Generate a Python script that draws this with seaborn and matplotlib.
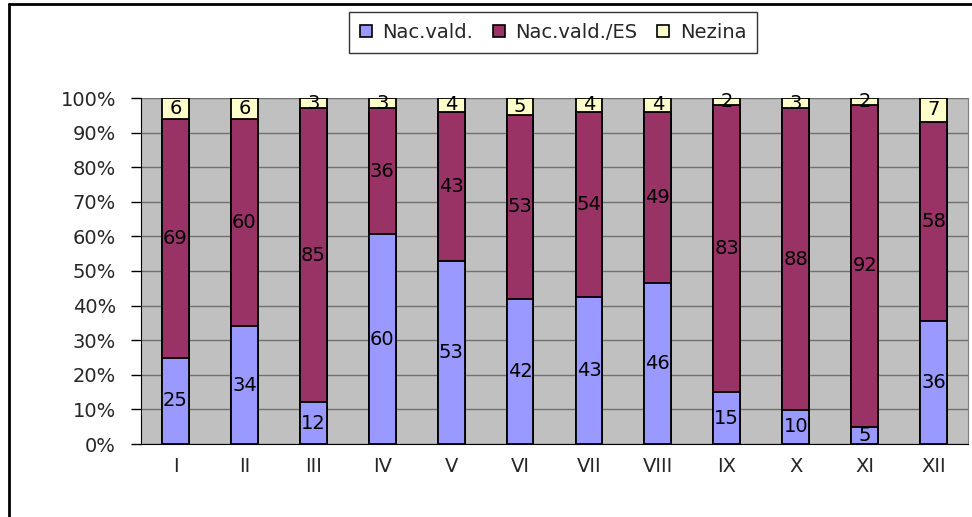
import matplotlib
matplotlib.use("Agg")
import matplotlib.pyplot as plt
from matplotlib.lines import Line2D
from matplotlib.patches import Patch
import numpy as np
import pandas as pd
import seaborn as sns

months = ["I", "II", "III", "IV", "V", "VI", "VII", "VIII", "IX", "X", "XI", "XII"]
nac_vald = [25, 34, 12, 60, 53, 42, 43, 46, 15, 10, 5, 36]
nac_vald_es = [69, 60, 85, 36, 43, 53, 54, 49, 83, 88, 92, 58]
nezina = [6, 6, 3, 3, 4, 5, 4, 4, 2, 3, 2, 7]

series_names = ["Nac.vald.", "Nac.vald./ES", "Nezina"]
colors = ["#9999FF", "#993366", "#FFFFCC"]

sns.set_style("white")
plt.rcParams["font.family"] = ["DejaVu Sans"]
FS = 14

raw = np.array([nac_vald, nac_vald_es, nezina], dtype=float)
share = raw / raw.sum(axis=0) * 100
cum = np.cumsum(share, axis=0)

df = pd.DataFrame({"month": months})
for i in range(3):
    df[f"cum{i}"] = cum[i]

fig = plt.figure(figsize=(9.72, 5.17), dpi=100)
ax = fig.add_axes([141 / 972, 1 - 444 / 517, 827 / 972, 346 / 517])
ax.set_facecolor("#C0C0C0")

# stacked columns: draw cumulative totals from the top layer down
for i in [2, 1, 0]:
    sns.barplot(data=df, x="month", y=f"cum{i}", color=colors[i], ax=ax,
                width=0.39, edgecolor="black", linewidth=1.3, saturation=1,
                zorder=3)

# value labels centred in each segment
for j in range(len(months)):
    bottom = 0
    for i in range(3):
        mid = bottom + share[i, j] / 2
        ax.text(j, mid, f"{int(raw[i, j])}", ha="center", va="center",
                fontsize=FS, color="black", zorder=5)
        bottom += share[i, j]

ax.set_xlim(-0.5, len(months) - 0.5)
ax.set_ylim(0, 100)
ax.set_yticks(np.arange(0, 101, 10))
ax.set_yticklabels([f"{v}%" for v in range(0, 101, 10)], fontsize=FS)
ax.yaxis.grid(True, color="#707070", linewidth=1, zorder=0)
ax.set_axisbelow(True)

ax.set_xticks(np.arange(len(months)))
ax.set_xticklabels(months, fontsize=FS)
ax.set_xticks(np.arange(-0.5, len(months)), minor=True)
ax.tick_params(axis="x", which="major", length=0, pad=9)
ax.tick_params(axis="x", which="minor", length=7, width=1, direction="out", color="black")
ax.tick_params(axis="y", length=7, width=1, direction="out", color="black", pad=11, left=True)
ax.set_xlabel("")
ax.set_ylabel("")

ax.spines["top"].set_visible(False)
ax.spines["right"].set_color("#808080")
ax.spines["left"].set_color("black")
ax.spines["bottom"].set_color("black")

handles = [Patch(facecolor=c, edgecolor="black", linewidth=1.2) for c in colors]
leg = fig.legend(handles, series_names, loc="center",
                 bbox_to_anchor=(553 / 972, 1 - 32.5 / 517), ncol=3,
                 frameon=True, fancybox=False, fontsize=FS, handlelength=0.62,
                 handleheight=0.62, handletextpad=0.55, columnspacing=1.0,
                 borderpad=0.55, borderaxespad=0)
leg.get_frame().set_edgecolor("black")
leg.get_frame().set_linewidth(1)

# chart frame
fig.add_artist(Line2D([9 / 972, 9 / 972], [0, 1 - 4 / 517], color="black", linewidth=2,
                      transform=fig.transFigure))
fig.add_artist(Line2D([9 / 972, 1], [1 - 4 / 517, 1 - 4 / 517], color="black", linewidth=2,
                      transform=fig.transFigure))

fig.savefig("out.png", dpi=100)
